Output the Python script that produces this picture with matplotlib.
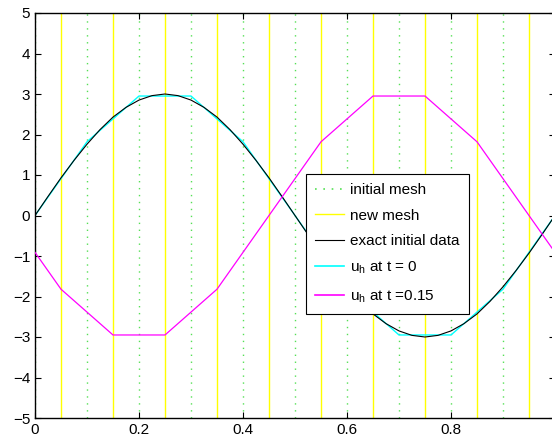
import numpy as np
from matplotlib import pyplot as plt
from matplotlib.lines import Line2D

plt.rcParams['font.family'] = ['Liberation Sans', 'DejaVu Sans']

# --------------- data -------------------------
# meshes
initial_mesh = [0.0, 0.1, 0.2, 0.3, 0.4, 0.5, 0.6, 0.7, 0.8, 0.9, 1.0]
new_mesh = [0.05, 0.15, 0.25, 0.35, 0.45, 0.55, 0.65, 0.75, 0.85, 0.95]

# exact initial data sampled every 0.025
exact_y = [0, 0.47, 0.93, 1.36, 1.76, 2.12, 2.43, 2.67, 2.85, 2.96, 3.0,
           2.96, 2.85, 2.67, 2.43, 2.12, 1.76, 1.36, 0.93, 0.47, 0,
           -0.47, -0.93, -1.36, -1.76, -2.12, -2.43, -2.67, -2.85, -2.96, -3.0,
           -2.96, -2.85, -2.67, -2.43, -2.12, -1.76, -1.36, -0.93, -0.47, 0]

# discrete solution at t = 0 on the initial mesh
uh0 = [0, 1.82, 2.95, 2.95, 1.82, 0, -1.82, -2.95, -2.95, -1.82, 0]

# discrete solution at t = 0.15 on the new mesh (plus the end points)
x_t15 = [0.0, 0.05, 0.15, 0.25, 0.35, 0.45, 0.55, 0.65, 0.75, 0.85, 0.95, 1.0]
uh_t15 = [-0.91, -1.82, -2.95, -2.95, -1.82, 0, 1.82, 2.95, 2.95, 1.82, 0, -0.91]

# --------------- figure -------------------------
fig = plt.figure(figsize=(5.52, 4.45), dpi=100)
ax = fig.add_axes([35 / 552, 27 / 445, 520 / 552, 405 / 445])

green = '#55e055'
yellow = '#ffff00'
dots = (0, (1, 4))

for xm in initial_mesh:
    ax.axvline(xm, color=green, linestyle=dots, linewidth=1.0, zorder=1)
for xm in new_mesh:
    ax.axvline(xm, color=yellow, linewidth=1.0, zorder=1)

exact_x = np.linspace(0, 1, len(exact_y))
ax.plot(initial_mesh, uh0, color='cyan', linewidth=1.0, zorder=2)
ax.plot(exact_x, exact_y, color='black', linewidth=0.8, zorder=3)
ax.plot(x_t15, uh_t15, color='magenta', linewidth=0.9, zorder=3)

ax.set_xlim(0, 1)
ax.set_ylim(-5, 5)
ax.set_xticks([0, 0.2, 0.4, 0.6, 0.8, 1.0])
ax.set_xticklabels(['0', '0.2', '0.4', '0.6', '0.8', ''])
ax.set_yticks(range(-5, 6))
ax.set_yticklabels([str(v).replace('-', '\u2212') for v in range(-5, 6)])
ax.tick_params(direction='in', top=True, right=True, labelsize=11, length=4, width=0.8)
for s in ax.spines.values():
    s.set_linewidth(1.0)

handles = [
    Line2D([], [], color=green, linestyle=dots, linewidth=1.2),
    Line2D([], [], color=yellow, linewidth=1.0),
    Line2D([], [], color='black', linewidth=0.8),
    Line2D([], [], color='cyan', linewidth=1.2),
    Line2D([], [], color='magenta', linewidth=1.2),
]
labels = ['initial mesh', 'new mesh', 'exact initial data',
          r'u$_\mathregular{h}$ at t = 0', r'u$_\mathregular{h}$ at t =0.15']
leg = ax.legend(handles, labels, loc='upper left', bbox_to_anchor=(0.521, 0.602),
                borderaxespad=0, fontsize=11, fancybox=False, framealpha=1,
                edgecolor='black', handlelength=1.9, handletextpad=0.4,
                labelspacing=0.75, borderpad=0.6)
leg.get_frame().set_linewidth(0.8)
leg.set_zorder(5)

fig.savefig('out.png', dpi=100)
